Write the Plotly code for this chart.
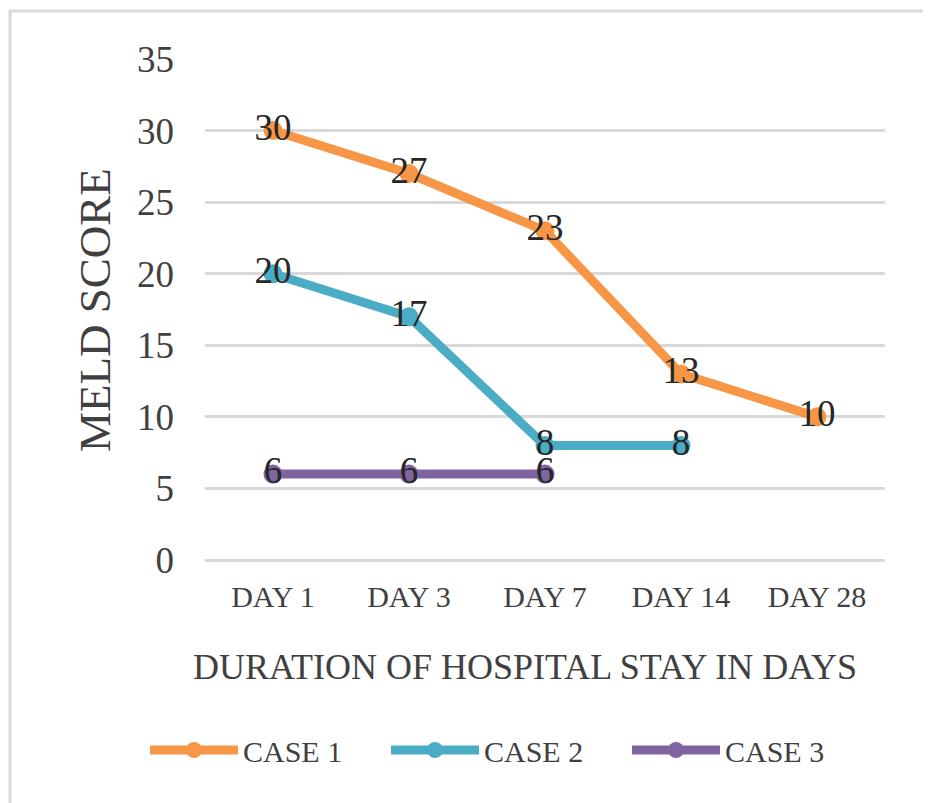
import plotly.graph_objects as go

days = ["DAY 1", "DAY 3", "DAY 7", "DAY 14", "DAY 28"]
case1 = [30, 27, 23, 13, 10]
case2 = [20, 17, 8, 8]
case3 = [6, 6, 6]
series_names = ["CASE 1", "CASE 2", "CASE 3"]
colors = ["#F79646", "#4BACC6", "#8064A2"]
y_ticks = [0, 5, 10, 15, 20, 25, 30, 35]

FONT = "Liberation Serif"
OFF = 8  # page body margin
W, H = 931 - OFF, 803 - OFF
L, T = 205 - OFF, 59 - OFF
R = W - (885 - OFF)
B = H - (560 - OFF)
pw, ph = W - L - R, H - T - B

def px_x(x):
    return (x - OFF - L) / pw

def px_y(y):
    return (H - B - (y - OFF)) / ph

fig = go.Figure()
for name, vals, col in zip(series_names, [case1, case2, case3], colors):
    fig.add_trace(go.Scatter(
        x=days[:len(vals)], y=vals, name=name,
        mode="lines+markers+text",
        text=[str(v) for v in vals],
        textposition="middle center",
        textfont=dict(family=FONT, size=37, color="#262626"),
        line=dict(color=col, width=9),
        marker=dict(color=col, size=19),
        cliponaxis=False,
    ))

fig.update_layout(
    width=W, height=H,
    margin=dict(l=L, r=R, t=T, b=B, autoexpand=False),
    paper_bgcolor="white", plot_bgcolor="white",
    font=dict(family=FONT, color="#404040"),
    showlegend=True,
    legend=dict(
        orientation="h", x=px_x(145), y=px_y(750),
        xanchor="left", yanchor="middle",
        font=dict(family=FONT, size=30, color="#404040"),
        itemwidth=88, entrywidth=138,
        bgcolor="rgba(0,0,0,0)",
    ),
    xaxis=dict(
        type="category", categoryorder="array", categoryarray=days,
        range=[-0.5, 4.5], showgrid=False, zeroline=False,
        showline=False, ticks="",
        tickfont=dict(family=FONT, size=30, color="#404040"),
        ticklabelstandoff=16,
    ),
    yaxis=dict(
        range=[0, 35], tickvals=y_ticks,
        showgrid=True, gridcolor="#D9D9D9", gridwidth=2.5,
        zeroline=True, zerolinecolor="#D9D9D9", zerolinewidth=2.5,
        showline=False, ticks="",
        tickfont=dict(family=FONT, size=37, color="#404040"),
        ticklabelstandoff=30,
    ),
    annotations=[
        dict(text="MELD SCORE", xref="paper", yref="paper",
             x=px_x(95), y=px_y(310), xanchor="center", yanchor="middle",
             textangle=-90, showarrow=False,
             font=dict(family=FONT, size=45, color="#404040")),
        dict(text="DURATION OF HOSPITAL STAY IN DAYS", xref="paper", yref="paper",
             x=px_x(525), y=px_y(667), xanchor="center", yanchor="middle",
             showarrow=False,
             font=dict(family=FONT, size=36, color="#404040")),
    ],
    shapes=[
        dict(type="rect", xref="paper", yref="paper",
             x0=px_x(10), x1=px_x(928), y0=px_y(810), y1=px_y(11),
             line=dict(color="#D9D9D9", width=3), fillcolor="rgba(0,0,0,0)",
             layer="below"),
    ],
)

fig.write_html("out.html")
